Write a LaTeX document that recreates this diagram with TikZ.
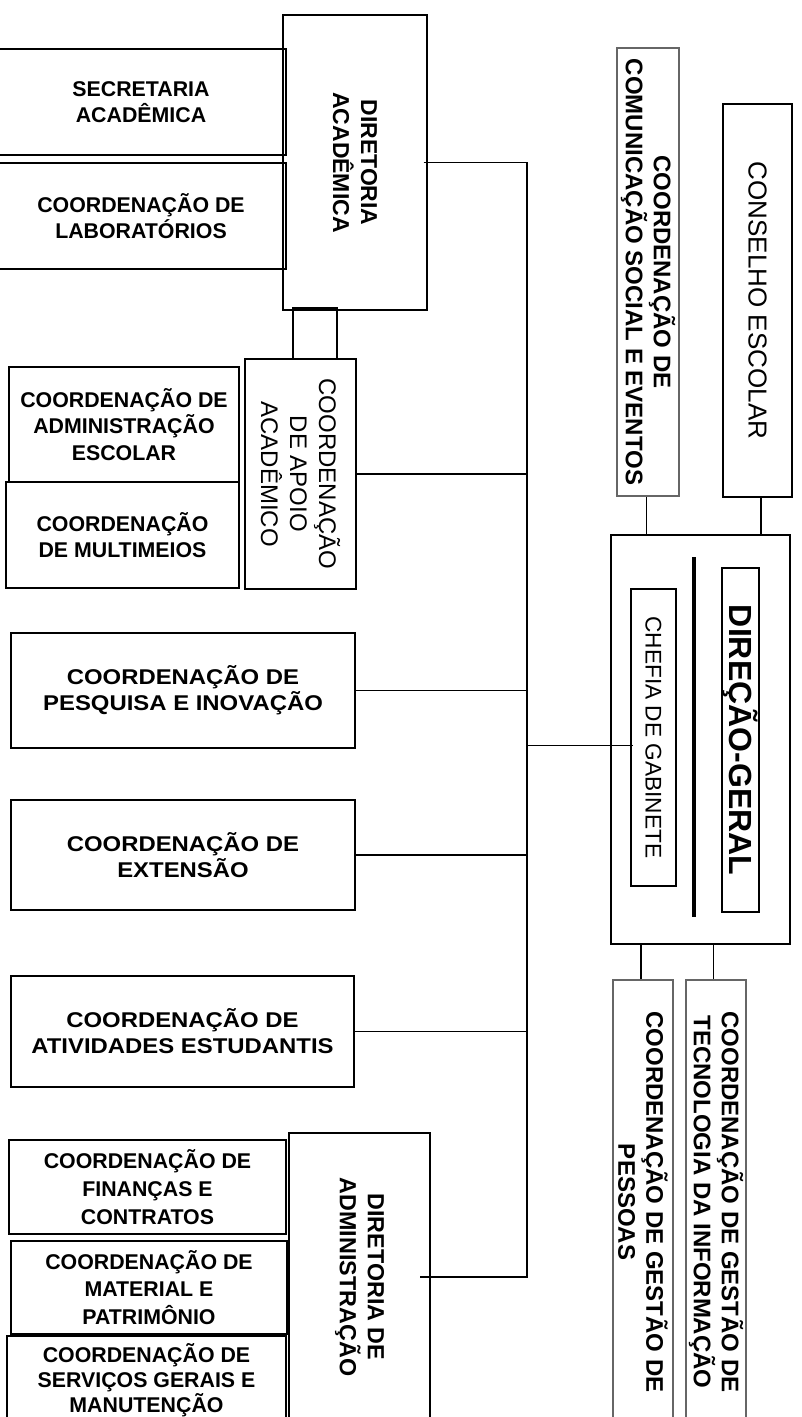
\documentclass[tikz,border=0pt]{standalone}
\usepackage{fontspec}
\setmainfont{Liberation Sans}
\begin{document}
\begin{tikzpicture}[x=0.75pt,y=-0.75pt,
	box/.style={draw,line width=1.1pt,inner sep=0pt,align=center},
	unit/.style={box,font=\bfseries\fontsize{16}{20}\selectfont},
	wunit/.style={box,xscale=1.12,font=\bfseries\fontsize{16}{19.5}\selectfont},
	vunit/.style={box,rotate=-90},
	grey/.style={draw=black!60,line width=1.5pt},
	wire/.style={line width=1pt}]
	\useasboundingbox (0,0) rectangle (801,1417);

	\node [vunit,minimum width=221.25pt,minimum height=108pt,font=\bfseries\fontsize{17.25}{21}\selectfont] (diracad) at (355,162.5) {DIRETORIA\\ACADÊMICA};
	\node [unit,minimum width=217.5pt,minimum height=79.5pt] (sec) at (141,102) {SECRETARIA\\ACADÊMICA};
	\node [unit,minimum width=217.5pt,minimum height=79.5pt] (lab) at (141,216) {COORDENAÇÃO DE\\LABORATÓRIOS};

	\node [box,minimum width=33pt,minimum height=38.25pt] (ponte) at (315,333.5) {};
	\node [vunit,minimum width=172.5pt,minimum height=83.25pt,font=\fontsize{18}{21.75}\selectfont] (apoio) at (300.5,474) {COORDENAÇÃO\\DE APOIO\\ACADÊMICO};
	\node [unit,minimum width=172.5pt,minimum height=86.25pt] (admesc) at (124,424.5) {COORDENAÇÃO DE\\ADMINISTRAÇÃO\\ESCOLAR};
	\node [unit,minimum width=174.75pt,minimum height=79.5pt] (multi) at (122.5,535) {COORDENAÇÃO\\DE MULTIMEIOS};

	\node [wunit,minimum width=230.4pt,minimum height=86.25pt] (pesq) at (183,690.5) {COORDENAÇÃO DE\\PESQUISA E INOVAÇÃO};
	\node [wunit,minimum width=230.4pt,minimum height=82.5pt] (ext) at (183,855) {COORDENAÇÃO DE\\EXTENSÃO};
	\node [wunit,minimum width=229.7pt,minimum height=83.25pt] (ativ) at (182.5,1031.5) {COORDENAÇÃO DE\\ATIVIDADES ESTUDANTIS};

	\node [vunit,minimum width=216pt,minimum height=105.75pt,font=\bfseries\fontsize{17.5}{21}\selectfont] (diradm) at (359.5,1277) {DIRETORIA DE\\ADMINISTRAÇÃO};
	\node [unit,minimum width=207.75pt,minimum height=70.5pt,font=\bfseries\fontsize{16}{21}\selectfont] (fin) at (147.5,1187) {COORDENAÇÃO DE\\FINANÇAS E\\CONTRATOS};
	\node [unit,minimum width=207pt,minimum height=69.75pt,font=\bfseries\fontsize{16}{20.5}\selectfont] (mat) at (149,1287.5) {COORDENAÇÃO DE\\MATERIAL E\\PATRIMÔNIO};
	\node [unit,minimum width=209.25pt,minimum height=66pt,font=\bfseries\fontsize{16}{18.75}\selectfont] (serv) at (146.5,1380) {COORDENAÇÃO DE\\SERVIÇOS GERAIS E\\MANUTENÇÃO};

	\node [vunit,grey,minimum width=336pt,minimum height=46.5pt,font=\bfseries\fontsize{18}{21}\selectfont] (com) at (648,272) {COORDENAÇÃO DE\\COMUNICAÇÃO SOCIAL E EVENTOS};
	\node [vunit,minimum width=294.75pt,minimum height=51.75pt,font=\fontsize{19.5}{22}\selectfont] (cons) at (757.5,300.5) {CONSELHO ESCOLAR};

	\node [box,minimum width=134.25pt,minimum height=306.75pt] (dg) at (700.5,739.5) {};
	\node [vunit,minimum width=222.75pt,minimum height=33.75pt,font=\fontsize{17}{20}\selectfont] (chefia) at (653.5,737.5) {CHEFIA DE GABINETE};
	\node [vunit,minimum width=258pt,minimum height=27.75pt,font=\bfseries\fontsize{24}{26}\selectfont] (direcao) at (740.5,740) {DIREÇÃO-GERAL};
	\draw [line width=3pt] (694,557) -- (694,917);

	\node [vunit,grey,minimum width=333pt,minimum height=45pt,font=\bfseries\fontsize{18}{21}\selectfont] (pessoas) at (643,1202) {COORDENAÇÃO DE GESTÃO DE\\PESSOAS};
	\node [vunit,grey,minimum width=333pt,minimum height=45pt,font=\bfseries\fontsize{18}{21}\selectfont] (ti) at (716,1202) {COORDENAÇÃO DE GESTÃO DE\\TECNOLOGIA DA INFORMAÇÃO};

	\coordinate (top) at (527,162.5);
	\coordinate (bot) at (527,1277);
	\coordinate (gab) at ([yshift=-6pt]chefia.south);

	\draw [wire] ([xshift=-3pt]diracad.north) -- (top) -- (bot) -- ([xshift=-8pt]diradm.north);
	\foreach \n in {pesq,ext,ativ}
		\draw [wire] (\n.east) -- (\n.east -| top);
	\draw [wire] (apoio.north) -- (apoio.north -| top);
	\draw [wire] (gab -| top) -- ([xshift=2pt]gab);

	\draw [wire] ([xshift=-1pt]com.east) -- ([xshift=-1pt]com.east |- dg.north);
	\draw [wire] ([xshift=2.5pt]cons.east) -- ([xshift=2.5pt]cons.east |- dg.north);
	\draw [wire] ([xshift=-1.5pt]pessoas.west) -- ([xshift=-1.5pt]pessoas.west |- dg.south);
	\draw [wire] ([xshift=-2pt]ti.west) -- ([xshift=-2pt]ti.west |- dg.south);
\end{tikzpicture}
\end{document}
